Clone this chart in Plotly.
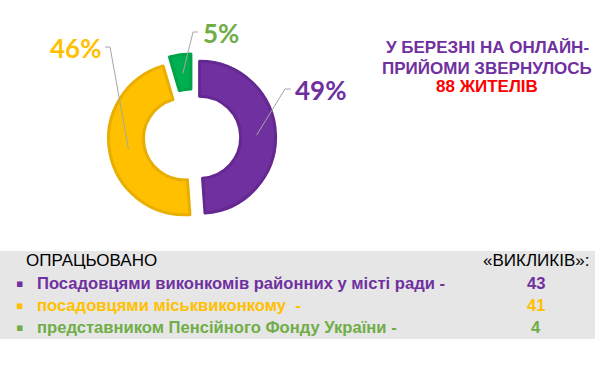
import math
import plotly.graph_objects as go

# ---- data ----
categories = [
    "Посадовцями виконкомів районних у місті ради -",
    "посадовцями міськвиконкому  -",
    "представником Пенсійного Фонду України -",
]
values = [43, 41, 4]
pct_labels = ["49%", "46%", "5%"]
title_lines = ["У БЕРЕЗНІ НА ОНЛАЙН-", "ПРИЙОМИ ЗВЕРНУЛОСЬ", "88 ЖИТЕЛІВ"]
header_left = "ОПРАЦЬОВАНО"
header_right = "«ВИКЛИКІВ»:"

# ---- style ----
W, H = 603, 366
slice_colors = ["#7030A0", "#FFC000", "#00B050"]
slice_borders = ["#642891", "#E8AE00", "#00A348"]
text_colors = ["#7030A0", "#FFC000", "#70AD47"]
pulls = [0.1, 0.1, 0.1]
hole = 0.54
CX, CY, R = 192.0, 137.5, 76.0   # pie centre / radius in pixels
half_box = R * (1 + max(pulls))


def px(x):
    return x / W


def py(y):
    return 1 - y / H


fig = go.Figure()
fig.add_trace(go.Pie(
    values=values,
    labels=categories,
    sort=False,
    direction="clockwise",
    rotation=0,
    hole=hole,
    pull=pulls,
    marker=dict(colors=slice_colors, line=dict(color=slice_borders, width=3)),
    textinfo="none",
    hoverinfo="skip",
    showlegend=False,
    domain=dict(x=[px(CX - half_box), px(CX + half_box)],
                y=[py(CY + half_box), py(CY - half_box)]),
))

shapes = []
annotations = []

# grey panel
shapes.append(dict(type="rect", xref="paper", yref="paper", layer="below",
                   x0=px(0), x1=px(595), y0=py(339), y1=py(251),
                   fillcolor="#E6E6E6", line=dict(width=0)))

# leader lines + percentage labels (anchors derived from slice angles)
elbows = [(285, 89, 291), (110, 47, 105), (193, 32, 198)]   # (x, y, end-of-horizontal x)
label_pos = [(294, 90, "left"), (102, 48, "right"), (202, 33, "left")]
total = sum(values)
cum = 0
for i, v in enumerate(values):
    theta = math.radians(360 * (cum + v / 2) / total)
    cum += v
    cx = CX + pulls[i] * R * math.sin(theta)
    cy = CY - pulls[i] * R * math.cos(theta)
    rm = 0.75 * R
    ax = cx + rm * math.sin(theta)
    ay = cy - rm * math.cos(theta)
    ex, ey, hx = elbows[i]
    shapes.append(dict(type="path", xref="paper", yref="paper",
                       path=f"M {px(ax)} {py(ay)} L {px(ex)} {py(ey)} L {px(hx)} {py(ey)}",
                       line=dict(color="#A6A6A6", width=1)))
    lx, ly, anc = label_pos[i]
    annotations.append(dict(x=px(lx), y=py(ly), xref="paper", yref="paper",
                            text=f"<b>{pct_labels[i]}</b>", showarrow=False,
                            xanchor=anc, yanchor="middle", borderpad=0,
                            font=dict(family="Lato", size=26, color=text_colors[i])))

# title block
title_colors = ["#7030A0", "#7030A0", "#FF0000"]
title_y = [47, 68, 87]
for t, c, y in zip(title_lines, title_colors, title_y):
    annotations.append(dict(x=px(487), y=py(y), xref="paper", yref="paper",
                            text=f"<b>{t}</b>", showarrow=False,
                            xanchor="center", yanchor="middle",
                            font=dict(family="Liberation Sans", size=17, color=c)))

# table header
annotations.append(dict(x=px(24), y=py(260), xref="paper", yref="paper",
                        text=header_left, showarrow=False, xanchor="left", yanchor="middle",
                        font=dict(family="Liberation Sans", size=17, color="#000000")))
annotations.append(dict(x=px(591), y=py(260), xref="paper", yref="paper",
                        text=header_right, showarrow=False, xanchor="right", yanchor="middle",
                        font=dict(family="Liberation Sans", size=17, color="#000000")))

# table rows
row_y = [283, 305, 327]
for cat, v, c, y in zip(categories, values, text_colors, row_y):
    annotations.append(dict(x=px(19), y=py(y), xref="paper", yref="paper",
                            text="▪", showarrow=False, xanchor="center", yanchor="middle",
                            font=dict(family="DejaVu Sans", size=11, color=c)))
    annotations.append(dict(x=px(35), y=py(y), xref="paper", yref="paper",
                            text=f"<b>{cat}</b>", showarrow=False, xanchor="left", yanchor="middle",
                            font=dict(family="Liberation Sans", size=16.6, color=c)))
    annotations.append(dict(x=px(536), y=py(y), xref="paper", yref="paper",
                            text=f"<b>{v}</b>", showarrow=False, xanchor="center", yanchor="middle",
                            font=dict(family="Liberation Sans", size=16.6, color=c)))

fig.update_layout(
    width=W, height=H,
    margin=dict(l=0, r=0, t=0, b=0),
    paper_bgcolor="#FFFFFF", plot_bgcolor="#FFFFFF",
    shapes=shapes, annotations=annotations,
)

fig.write_html("out.html",
               config={"displayModeBar": False},
               post_script="document.body.style.margin='0';document.body.style.overflow='hidden';")
